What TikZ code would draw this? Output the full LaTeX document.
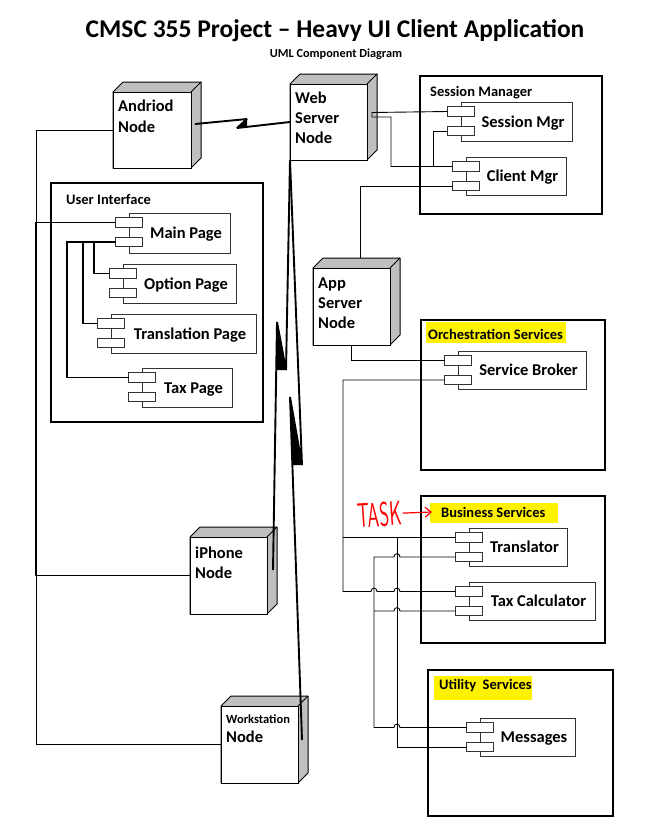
\documentclass[tikz,border=0pt]{standalone}
\usepackage{fontspec}
\setmainfont{Carlito}
\usetikzlibrary{arrows.meta}
\newcommand\DevNode[5]{%
  \filldraw[side] (#2,#3) -- ++(10,-10) -- ++(#4,0) -- ++(0,#5) -- ++(-10,10) -- ++(-#4,0) -- cycle;
  \node[front, minimum width=#4pt, minimum height=#5pt] (#1) at (#2,#3) {};
  \draw[line width=1pt] (#1.north east) -- ++(10,-10);
}
\newcommand\Comp[6]{%
  \node[comp, minimum width=#4pt, minimum height=#5pt] (#1) at (#2,#3) {};
  \node[port] (#1-p1) at ([yshift=-9.5pt]#1.north west) {};
  \node[port] (#1-p2) at ([yshift=-29pt]#1.north west) {};
  \node[ctxt] (#1-t) at (#2+6.5+#4/2, #3+#5/2+5.5) {#6};
}
\begin{document}
\begin{tikzpicture}[x=1pt,y=-1pt,
  pkg/.style={draw, line width=2.2pt, anchor=north west, inner sep=0pt, outer sep=0pt},
  comp/.style={draw=black!80, line width=0.9pt, fill=white, anchor=north west, inner sep=0pt, outer sep=0pt},
  port/.style={draw=black!80, line width=0.9pt, fill=white, minimum width=27pt, minimum height=9.5pt, inner sep=0pt, outer sep=0pt},
  front/.style={draw, line width=1pt, fill=white, anchor=north west, inner sep=0pt, outer sep=0pt},
  side/.style={draw, line width=1pt, fill=black!25, line join=round},
  wire/.style={line width=0.9pt},
  wirethick/.style={line width=1.4pt},
  bolt/.style={line width=1.9pt, line join=bevel},
  wedge/.style={fill=black},
  lbl/.style={font=\bfseries\fontsize{14.5}{17}\selectfont, anchor=base west, inner sep=0pt},
  ctxt/.style={font=\bfseries\fontsize{16.5}{19}\selectfont, anchor=base, inner sep=0pt},
  ntxt/.style={font=\bfseries\fontsize{16.5}{19}\selectfont, anchor=base west, inner sep=0pt},
  hl/.style={fill=yellow}
]
\fill[white] (0,0) rectangle (645,838);
\useasboundingbox (0,0) rectangle (645,838);

% title
\node[font=\bfseries\fontsize{25.5}{30}\selectfont, anchor=base, inner sep=0pt] (title) at (335,37) {CMSC 355 Project – Heavy UI Client Application};
\node[font=\bfseries\fontsize{12.3}{14}\selectfont, anchor=base, inner sep=0pt] (subtitle) at (336,57) {UML Component Diagram};

% packages
\node[pkg, minimum width=182pt, minimum height=138pt] (sesspkg) at (420,76) {};
\node[pkg, minimum width=212pt, minimum height=239pt] (uipkg) at (51,183) {};
\node[pkg, minimum width=184pt, minimum height=150pt] (orchpkg) at (421,320) {};
\node[pkg, minimum width=184pt, minimum height=147pt] (busipkg) at (421,496) {};
\node[pkg, minimum width=185pt, minimum height=146pt] (utilpkg) at (428,670) {};

\fill[hl] (426,322) rectangle (566,343);
\fill[hl] (430,503) rectangle (558,523);
\fill[hl] (434,676) rectangle (532,700);

\node[lbl] (sesslbl) at (430,96) {Session Manager};
\node[lbl] (uilbl) at (66,204) {User Interface};
\node[lbl] (orchlbl) at (428,339) {Orchestration Services};
\node[lbl] (busilbl) at (441,517) {Business Services};
\node[lbl] (utillbl) at (439,689) {Utility\ \ Services};

% deployment nodes
\DevNode{android}{113}{92}{78}{76}
\DevNode{webserver}{290}{84}{77}{76}
\DevNode{appserver}{313}{268}{77}{77}
\DevNode{iphone}{190}{537}{77}{77}
\DevNode{workstation}{221}{706}{77}{77}

\node[ntxt] (androidt1) at (118,111) {Andriod};
\node[ntxt] (androidt2) at (118,132) {Node};
\node[ntxt] (webt1) at (295,103) {Web};
\node[ntxt] (webt2) at (295,123) {Server};
\node[ntxt] (webt3) at (295,143) {Node};
\node[ntxt] (appt1) at (318,288) {App};
\node[ntxt] (appt2) at (318,308) {Server};
\node[ntxt] (appt3) at (318,328) {Node};
\node[ntxt] (iphonet1) at (195,558) {iPhone};
\node[ntxt] (iphonet2) at (195,578) {Node};
\node[font=\bfseries\fontsize{12.5}{15}\selectfont, anchor=base west, inner sep=0pt] (wst1) at (226,723) {Workstation};
\node[ntxt] (wst2) at (226,742) {Node};

% components
\Comp{sessmgr}{461}{102}{111}{39}{Session Mgr}
\Comp{clientmgr}{466}{157}{100}{38}{Client Mgr}
\Comp{mainpage}{129}{213}{101}{40}{Main Page}
\Comp{optionpage}{123}{264}{113}{39}{Option Page}
\Comp{transpage}{111}{314}{145}{39}{Translation Page}
\Comp{taxpage}{142}{368}{90}{39}{Tax Page}
\Comp{sbroker}{458}{351}{128}{38}{Service Broker}
\Comp{translator}{469}{528}{98}{38}{Translator}
\Comp{taxcalc}{469}{582}{126}{38}{Tax Calculator}
\Comp{messages}{480}{718}{95}{38}{Messages}

% bus coordinates
\coordinate (leftbus) at (36,0);
\coordinate (uibusT) at (67,0);
\coordinate (uibusR) at (83,0);
\coordinate (uibusO) at (94,0);
\coordinate (webtap) at (372,112.5);
\coordinate (webdrop) at (391,0);
\coordinate (sessdrop) at (433,0);
\coordinate (busA) at (343,0);
\coordinate (busB) at (374,0);
\coordinate (busC) at (397,0);

% wires: session manager
\draw[wire] (sessmgr-p1.west) -- (webtap) -- ++(0,4.5) -| (webdrop |- clientmgr-p1.west) -- (clientmgr-p1.west);
\draw[wire] (sessmgr-p2.west) -| (sessdrop |- clientmgr-p1.west);
\draw[wire] (clientmgr-p2.west) -| ([xshift=8.5pt,yshift=10pt]appserver.north);
\draw[wire] ([xshift=-0.5pt]appserver.south) |- (sbroker-p1.west);

% wires: services
\draw[wire] (sbroker-p2.west) -| (busA |- taxcalc-p1.west) -- (371,591.5) .. controls (371,587) and (377,587) .. (377,591.5) -- (394,591.5) .. controls (394,587) and (400,587) .. (400,591.5) -- (taxcalc-p1.west);
\draw[wire] (busA |- translator-p1.west) -- (translator-p1.west);
\draw[wire] (busC |- translator-p1.west) |- (messages-p2.west);
\draw[wire] (translator-p2.west) -- (400,557) .. controls (400,552.5) and (394,552.5) .. (394,557) -- (busB |- translator-p2.west) -- (busB |- messages-p1.west) -- (394,727.5) .. controls (394,723) and (400,723) .. (400,727.5) -- (messages-p1.west);
\draw[wire] (taxcalc-p2.west) -- (400,611) .. controls (400,606.5) and (394,606.5) .. (394,611) -- (busB |- taxcalc-p2.west);

% wires: left side
\draw[wire] (android.west) -| (leftbus |- workstation.west) -- (workstation.west);
\draw[wirethick] (mainpage-p1.west) -| (leftbus |- iphone.west);
\draw[wire] (leftbus |- iphone.west) -- (iphone.west);
\draw[wirethick] (mainpage-p2.west) -| (uibusT |- taxpage-p1.west) -- (taxpage-p1.west);
\draw[wirethick] (uibusR |- mainpage-p2.west) |- (transpage-p1.west);
\draw[wirethick] (uibusO |- mainpage-p2.west) |- (optionpage-p1.west);

% lightning links
\draw[bolt] ([xshift=4pt,yshift=6pt]android.east) -- (247,119) -- (237,128) -- (webserver.west);
\fill[wedge] (237,128) -- (247,119) -- (247,126.9) -- cycle;
\draw[bolt] (webserver.south west) -- (286,370) -- (277,322) -- ([xshift=6pt,yshift=-33pt]iphone.north east);
\fill[wedge] (277,322) -- (286,370) -- (275.8,370) -- cycle;
\draw[bolt] (webserver.south west) -- (302,465) -- (290,397) -- ([xshift=4pt,yshift=-34pt]workstation.north east);
\fill[wedge] (290,397) -- (302,465) -- (292.4,465) -- cycle;

% annotation
\node[text=red, font=\sffamily\fontsize{34}{34}\selectfont, anchor=base west, inner sep=0pt, rotate=4] (task) at (358,528) {\scalebox{0.55}[1]{TASK}};
\draw[red, line width=1.2pt, -{Straight Barb[length=6pt,width=10pt]}] ([xshift=1pt]task.east) -- ([xshift=-9pt]busilbl.west);
\end{tikzpicture}
\end{document}
